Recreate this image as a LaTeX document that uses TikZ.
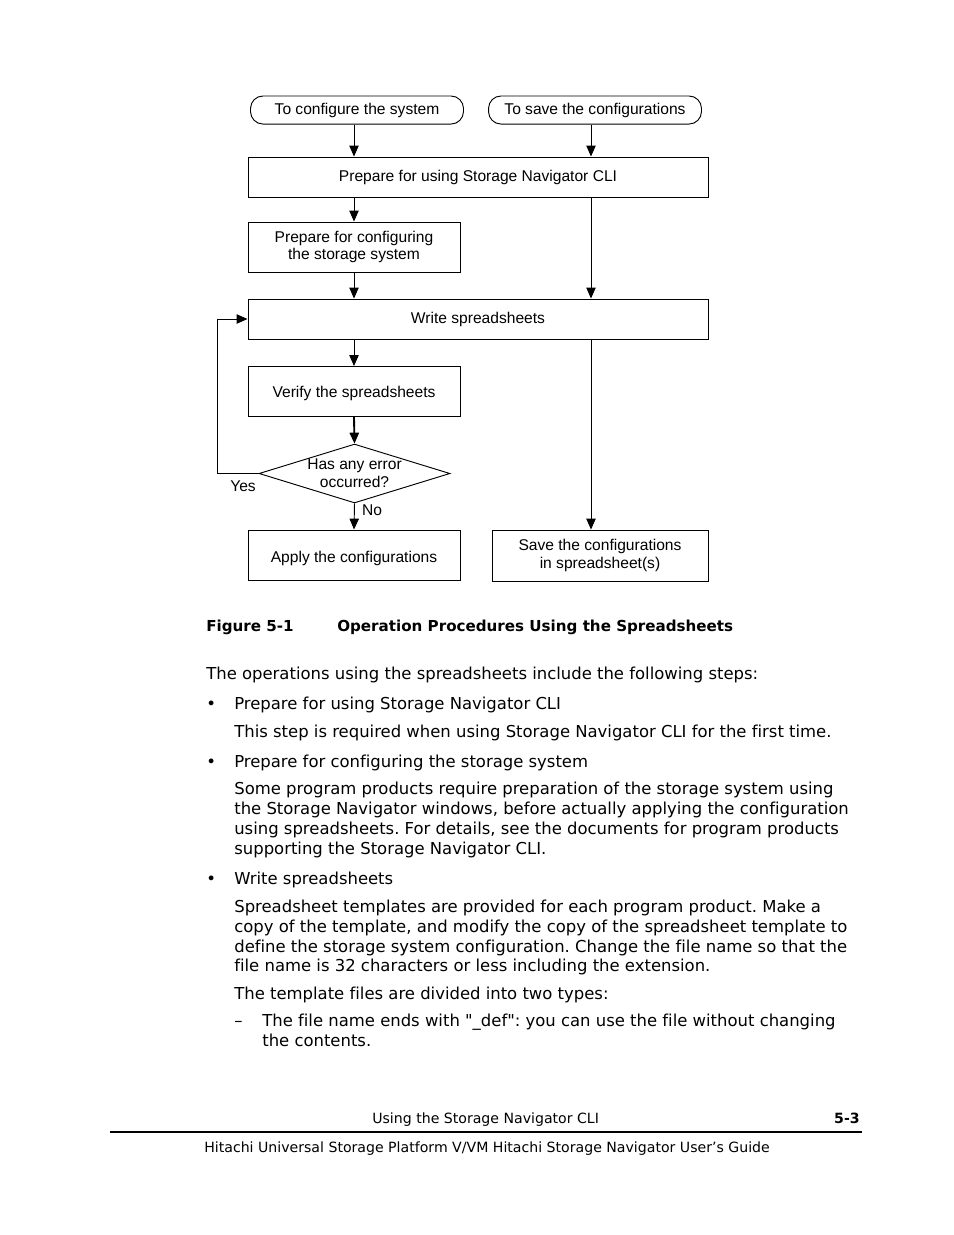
\documentclass[tikz,border=0pt]{standalone}
\usepackage{fontspec}
\setmainfont{DejaVu Sans}[Ligatures=NoCommon]
\newfontfamily\chartfont{Liberation Sans}
\usetikzlibrary{shapes.geometric,arrows.meta}
\frenchspacing
\newcommand{\plainquote}{\XeTeXglyph\XeTeXcharglyph"22\relax}
\tikzstyle{terminal} = [rectangle, rounded corners=8pt, minimum width=136.6pt,
minimum height=18pt, text centered, draw=black, line width=0.6pt, font=\chartfont\fontsize{10}{11}\selectfont]
\tikzstyle{widebox} = [rectangle, minimum width=295.1pt, minimum height=25.7pt, text centered, draw=black, line width=0.6pt, align=center, font=\chartfont\fontsize{10}{11}\selectfont]
\tikzstyle{smallbox} = [rectangle, minimum width=136pt, minimum height=32.1pt, text centered, draw=black, line width=0.6pt, align=center, font=\chartfont\fontsize{10}{11}\selectfont]
\tikzstyle{storebox} = [smallbox, minimum width=138.6pt, minimum height=32.7pt]
\tikzstyle{decision} = [diamond, aspect=3.2, inner sep=-1.5pt, minimum width=122.5pt, minimum height=37.8pt, draw=black, line width=0.6pt, align=center, font=\chartfont\fontsize{10}{11.5}\selectfont]
\tikzstyle{branch} = [inner sep=0pt, font=\chartfont\fontsize{10}{11}\selectfont]
\tikzstyle{arrow} = [line width=0.6pt, -{Triangle[width=6pt,length=7pt]}]
\tikzstyle{bodytext} = [anchor=base west, inner sep=0pt, font=\fontsize{10.55}{12.6}\selectfont]
\tikzstyle{caption} = [anchor=base west, inner sep=0pt, font=\bfseries\fontsize{9.7}{12}\selectfont]
\tikzstyle{foot} = [anchor=base west, inner sep=0pt, font=\fontsize{9.05}{11}\selectfont]

\begin{document}
\begin{tikzpicture}[x=0.6415pt, y=-0.6415pt]
        \useasboundingbox (0,0) rectangle (954,1235);
        % flowchart
        \node (conf) [terminal] at (357,110) {To configure the system};
        \node (save) [terminal] at (595,110) {To save the configurations};
        \node (prep) [widebox] at (478,177) {Prepare for using Storage Navigator CLI};
        \node (prepsys) [smallbox] at (354,247) {Prepare for configuring\\the storage system};
        \node (write) [widebox] at (478,319) {Write spreadsheets};
        \node (verify) [smallbox, text height=9.8pt] at (354,391.5) {Verify the spreadsheets};
        \node (error) [decision] at (354.5,473.5) {Has any error\\occurred?};
        \node (apply) [smallbox, text height=11.2pt] at (354,555) {Apply the configurations};
        \node (store) [storebox] at (600,555.5) {Save the configurations\\in spreadsheet(s)};
        \node (yes) [branch] at (243,486) {Yes};
        \node (no) [branch] at (372,510) {No};
        \coordinate (right) at (591,0);
        \draw [arrow] (prepsys |- conf.south) -- (prepsys |- prep.north);
        \draw [arrow] (right |- save.south) -- (right |- prep.north);
        \draw [arrow] (prepsys |- prep.south) -- (prepsys.north);
        \draw [arrow] (right |- prep.south) -- (right |- write.north);
        \draw [arrow] (prepsys.south) -- (prepsys |- write.north);
        \draw [arrow] (verify |- write.south) -- (verify.north);
        \draw [arrow, line width=1.2pt] (verify.south) -- (error.north);
        \draw [arrow] (error.west) -- ++(-41,0) |- (write.west);
        \draw [arrow] (error.south) -- (apply.north);
        \draw [arrow] (right |- write.south) -- (right |- store.north);
        % caption and text
        \node (fig) [caption] at (206,631) {Figure 5-1};
        \node (title) [caption] at (337,631) {Operation Procedures Using the Spreadsheets};
        \node (intro) [bodytext] at (206,679) {The operations using the spreadsheets include the following steps:};
        \node (dot1) [bodytext] at (206,709) {•};
        \node (item1) [bodytext] at (234,709) {Prepare for using Storage Navigator CLI};
        \node (text1) [bodytext] at (234,737) {This step is required when using Storage Navigator CLI for the first time.};
        \node (dot2) [bodytext] at (206,767) {•};
        \node (item2) [bodytext] at (234,767) {Prepare for configuring the storage system};
        \node (text2a) [bodytext] at (234,794) {Some program products require preparation of the storage system using};
        \node (text2b) [bodytext] at (234,814) {the Storage Navigator windows, before actually applying the configuration};
        \node (text2c) [bodytext] at (234,834) {using spreadsheets. For details, see the documents for program products};
        \node (text2d) [bodytext] at (234,854) {supporting the Storage Navigator CLI.};
        \node (dot3) [bodytext] at (206,884) {•};
        \node (item3) [bodytext] at (234,884) {Write spreadsheets};
        \node (text3a) [bodytext] at (234,912) {Spreadsheet templates are provided for each program product. Make a};
        \node (text3b) [bodytext] at (234,932) {copy of the template, and modify the copy of the spreadsheet template to};
        \node (text3c) [bodytext] at (234,952) {define the storage system configuration. Change the file name so that the};
        \node (text3d) [bodytext] at (234,971) {file name is 32 characters or less including the extension.};
        \node (types) [bodytext] at (234,999) {The template files are divided into two types:};
        \node (dash1) [bodytext] at (234,1026) {–};
        \node (type1a) [bodytext] at (262,1026) {The file name ends with \plainquote\_def\plainquote: you can use the file without changing};
        \node (type1b) [bodytext] at (262,1046) {the contents.};
        % footer
        \node (chapter) [foot] at (372,1123) {Using the Storage Navigator CLI};
        \node (page) [foot, anchor=base east, font=\bfseries\fontsize{9.05}{11}\selectfont] at (860,1123) {5-3};
        \draw [line width=1.3pt] (110,1132) -- (862,1132);
        \node (guide) [foot] at (204,1152) {Hitachi Universal Storage Platform V/VM Hitachi Storage Navigator User’s Guide};
    \end{tikzpicture}
\end{document}
